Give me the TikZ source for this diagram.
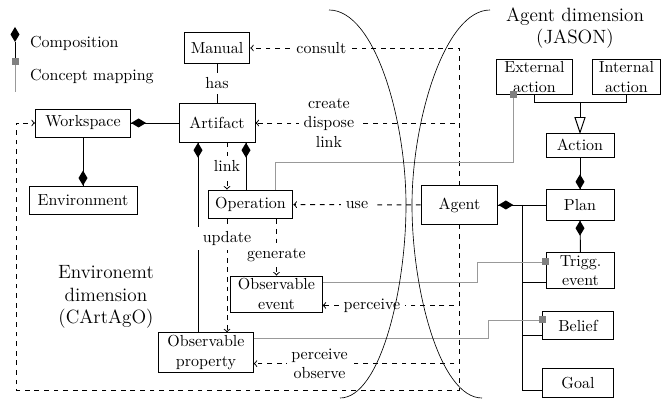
\documentclass[tikz,border=0pt]{standalone}
\usepackage{tikz}

\begin{document}
\begin{tikzpicture}[x=0.625pt,y=0.625pt,semithick]
            \tikzstyle{every node}+=[inner sep=1pt]
            \tikzstyle{box}=[draw=black, align=center]
            \tikzstyle{lbl}=[fill=white, inner sep=3pt, align=center]
            \tikzstyle{concept}=[draw=gray!80]
            \useasboundingbox (0,0) rectangle (667,-399);
            % legend
            \coordinate (compkey) at (15,-27);
            \coordinate (mapkey) at (15,-62);
            \fill [black] (compkey) -- ++(-4.5,-7.5) -- ++(4.5,-7.5) -- ++(4.5,7.5) -- cycle;
            \draw [black] (compkey) ++(0,-15) -- ++(0,-18);
            \fill [gray] (mapkey) +(-3.5,-3.5) rectangle +(3.5,3.5);
            \draw [concept] (mapkey) ++(0,-3.5) -- ++(0,-27);
            \draw (28,-43) node [right] (compname) {Composition};
            \draw (28,-77) node [right] (mapname) {Concept mapping};
            % environment side
            \draw (217,-48) node [box, minimum width=41pt, minimum height=19pt] (manual) {Manual};
            \draw (217,-123) node [box, minimum width=47.5pt, minimum height=24pt] (artifact) {Artifact};
            \draw (83,-123) node [box, minimum width=59.5pt, minimum height=17.5pt] (workspace) {Workspace};
            \draw (83,-200) node [box, minimum width=67.5pt, minimum height=17.5pt] (environment) {Environment};
            \draw (250.5,-204.5) node [box, minimum width=53pt, minimum height=18pt] (operation) {Operation};
            \draw (276.5,-294) node [box, minimum width=57pt, minimum height=22.5pt] (obsevent) {Observable\\event};
            \draw (206,-352.5) node [box, minimum width=59pt, minimum height=24.5pt] (obsprop) {Observable\\property};
            \draw (106,-297) node [align=center, font=\large] (envdim) {Environemt\\dimension\\(CArtAgO)};
            % agent side
            \draw (459.5,-205) node [box, minimum width=48pt, minimum height=24pt] (agent) {Agent};
            \draw (580,-205) node [box, minimum width=42.5pt, minimum height=19pt] (plan) {Plan};
            \draw (580.5,-270.5) node [box, minimum width=43pt, minimum height=22pt] (trigg) {Trigg.\\event};
            \draw (578,-325.5) node [box, minimum width=44pt, minimum height=18pt] (belief) {Belief};
            \draw (578,-383) node [box, minimum width=44pt, minimum height=18pt] (goal) {Goal};
            \draw (580,-145) node [box, minimum width=42.5pt, minimum height=15pt] (action) {Action};
            \draw (534.5,-77) node [box, minimum width=47pt, minimum height=21.5pt] (extaction) {External\\action};
            \draw (626.5,-77) node [box, minimum width=43pt, minimum height=21.5pt] (intaction) {Internal\\action};
            \draw (575,-28) node [align=center, font=\large] (agentdim) {Agent dimension\\(JASON)};
            % composition
            \draw [black] (manual) -- node [lbl] {has} (artifact);
            \draw [black] (artifact) -- (workspace);
            \fill [black] (workspace.east) -- ++(7.5,4.5) -- ++(7.5,-4.5) -- ++(-7.5,-4.5) -- cycle;
            \draw [black] (workspace) -- (environment);
            \fill [black] (environment.north) -- ++(-4.5,7.5) -- ++(4.5,7.5) -- ++(4.5,-7.5) -- cycle;
            \draw [black] (198,0 |- artifact.south) -- (198,0 |- obsprop.north);
            \fill [black] (198,0 |- artifact.south) -- ++(-4.5,-7.5) -- ++(4.5,-7.5) -- ++(4.5,7.5) -- cycle;
            \draw [black] (246,0 |- artifact.south) -- (246,0 |- operation.north);
            \fill [black] (246,0 |- artifact.south) -- ++(-4.5,-7.5) -- ++(4.5,-7.5) -- ++(4.5,7.5) -- cycle;
            \draw [black] (agent.east) -- (plan.west);
            \fill [black] (agent.east) -- ++(7.5,4.5) -- ++(7.5,-4.5) -- ++(-7.5,-4.5) -- cycle;
            \draw [black] (522,0 |- agent.east) |- (goal.west |- 0,-390);
            \draw [black] (522,-282) -- (trigg.west |- 0,-282);
            \draw [black] (522,-335) -- (belief.west |- 0,-335);
            \draw [black] (plan) -- (trigg);
            \fill [black] (plan.south) -- ++(-4.5,-7.5) -- ++(4.5,-7.5) -- ++(4.5,7.5) -- cycle;
            \draw [black] (plan) -- (action);
            \fill [black] (plan.north) -- ++(-4.5,7.5) -- ++(4.5,7.5) -- ++(4.5,-7.5) -- cycle;
            % generalisation
            \draw [black] (extaction.south) -- ++(0,-8) -| (intaction.south);
            \draw [black] (action.north |- 0,-102) -- ++(0,-16);
            \draw [black, fill=white] (action.north) -- ++(-5,15) -- ++(10,0) -- cycle;
            % interaction
            \draw [black, dashed, ->] (227,0 |- artifact.south) -- node [lbl] {link} (227,0 |- operation.north);
            \draw [black, dashed, ->] (227,0 |- operation.south) -- node [lbl, pos=0.17] {update} (227,0 |- obsprop.north);
            \draw [black, dashed, ->] (operation.south -| obsevent.north) -- node [lbl, pos=0.63] {generate} (obsevent.north);
            \draw [black, dashed, ->] (agent) -- node [lbl] {use} (operation);
            \draw [black, dashed, ->] (agent.north) |- node [lbl, pos=0.83] {consult} (manual.east);
            \draw [black, dashed, ->] (agent.north) |- node [lbl, pos=0.82] {create\\dispose\\link} (artifact.east);
            \draw [black, dashed, ->] (agent.south) |- node [lbl, pos=0.82] {perceive} ([yshift=4.4pt]obsevent.south east);
            \draw [black, dashed, ->] (agent.south) |- node [lbl, pos=0.84] {perceive\\observe} ([yshift=5.6pt]obsprop.south east);
            \coordinate (loopcorner) at (16,-390);
            \draw [black, dashed, ->] (agent.south) |- (loopcorner) |- (workspace.west);
            % concept mapping
            \draw [concept] (275,0 |- operation.north) |- (513,-162) -- (513,0 |- extaction.south);
            \fill [gray] (513,0 |- extaction.south) +(-3.5,-3.5) rectangle +(3.5,3.5);
            \draw [concept] (obsevent.east |- 0,-282) -| (477,-262) -- (trigg.west |- 0,-262);
            \fill [gray] (trigg.west |- 0,-262) +(-3.5,-3.5) rectangle +(3.5,3.5);
            \draw [concept] (obsprop.east |- 0,-338) -| (488,-320) -- (belief.west |- 0,-320);
            \fill [gray] (belief.west |- 0,-320) +(-3.5,-3.5) rectangle +(3.5,3.5);
            % dimension borders
            \draw [black, thin] (329,-10) .. controls (375,-10) and (406,-120) .. (406,-205) .. controls (406,-290) and (380,-398) .. (340,-398);
            \draw [black, thin] (490,-10) .. controls (445,-10) and (412,-120) .. (412,-205) .. controls (412,-290) and (440,-398) .. (482,-398);
\end{tikzpicture}
\end{document}
